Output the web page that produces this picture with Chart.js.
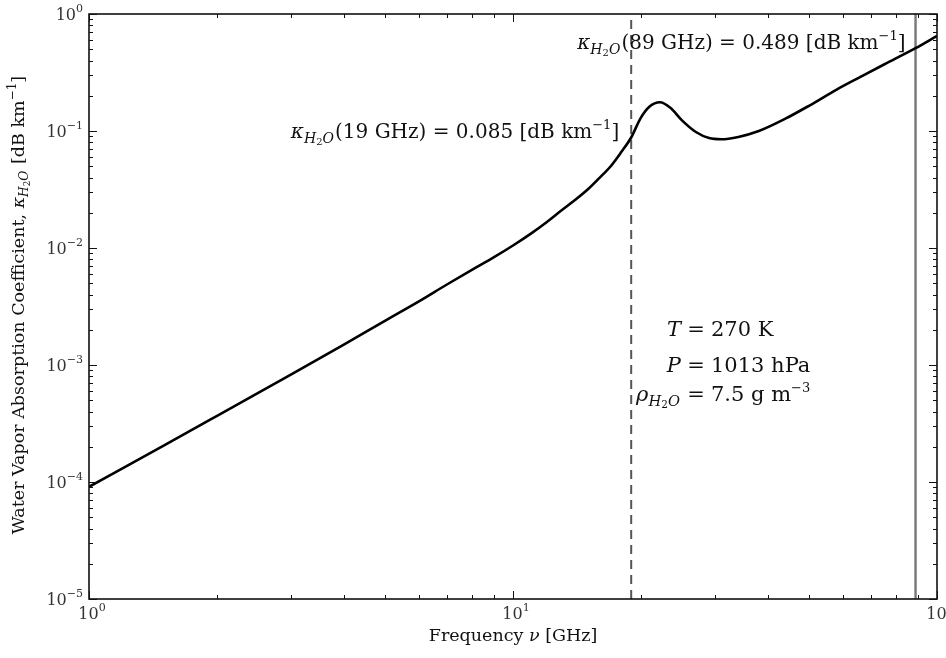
<!DOCTYPE html>
<html>
<head>
<meta charset="utf-8">
<script src="https://cdn.jsdelivr.net/npm/chart.js@4/dist/chart.umd.min.js"></script>
<style>
    html, body { margin: 0; padding: 0; background: #fff; }
    #chart { display: block; }
</style>
</head>
<body>
<canvas id="chart" width="946" height="658"></canvas>
<script>
// frequency [GHz] and water vapour absorption [dB/km]
const FREQ  = [1, 1.5, 2, 3, 4, 5, 6, 7, 8, 9, 10, 11, 12, 13, 14, 15, 16, 17, 18, 19,
               20, 21, 22.2, 23.5, 25, 27, 29, 31, 34, 38, 44, 50, 58, 66, 75, 89, 100];
const KAPPA = [9.1e-5, 2.05e-4, 3.66e-4, 8.3e-4, 1.5e-3, 2.4e-3, 3.5e-3, 4.9e-3, 6.5e-3, 8.3e-3,
               1.05e-2, 1.32e-2, 1.66e-2, 2.09e-2, 2.57e-2, 3.16e-2, 3.98e-2, 5.0e-2, 6.6e-2, 0.088,
               0.129, 0.162, 0.176, 0.158, 0.124, 0.098, 0.087, 0.085, 0.089, 0.1, 0.128, 0.165,
               0.226, 0.29, 0.37, 0.51, 0.65];

const MARK_LOW  = 19;
const MARK_HIGH = 89;
const X_RANGE = [1, 100];
const Y_RANGE = [1e-5, 1];
const X_TICKS = [1, 10, 100];
const X_EXP   = ['0', '1', '2'];
const Y_TICKS = [1e-5, 1e-4, 1e-3, 1e-2, 1e-1, 1];
const Y_EXP   = ['\u22125', '\u22124', '\u22123', '\u22122', '\u22121', '0'];

const SERIF = '"DejaVu Serif", serif';

function font(size, italic) {
    return (italic ? 'italic ' : '') + size + 'px ' + SERIF;
}

/**
 * Draws a run of text pieces with their own font and baseline shift
 */
function richText(ctx, parts, x, y, align) {
    let w = 0;
    parts.forEach(function (p) {
        ctx.font = p.f;
        w += ctx.measureText(p.t).width + (p.gap || 0);
    });
    let cx = x;
    if (align === 'right') cx = x - w;
    if (align === 'center') cx = x - w / 2;
    ctx.textAlign = 'left';
    ctx.textBaseline = 'alphabetic';
    parts.forEach(function (p) {
        ctx.font = p.f;
        ctx.fillText(p.t, cx, y + (p.dy || 0));
        cx += ctx.measureText(p.t).width + (p.gap || 0);
    });
}

function subParts(sym, size) {
    return [
        {t: sym, f: font(size, true)},
        {t: 'H', f: font(size * 0.7, true), dy: size * 0.25},
        {t: '2', f: font(size * 0.5, false), dy: size * 0.35},
        {t: 'O', f: font(size * 0.7, true), dy: size * 0.25, gap: 1}
    ];
}

function minorValues(lo, hi) {
    let out = [];
    for (let d = lo; d < hi; d *= 10) {
        for (let k = 2; k <= 9; k++) out.push(d * k);
    }
    return out;
}

const decorPlugin = {
    id: 'decor',
    afterDraw: function (chart) {
        const ctx = chart.ctx;
        const a = chart.chartArea;
        const xs = chart.scales.x;
        const ys = chart.scales.y;
        ctx.save();
        ctx.fillStyle = '#111';
        ctx.strokeStyle = '#111';

        // frame
        ctx.lineWidth = 1.6;
        ctx.strokeRect(a.left, a.top, a.right - a.left, a.bottom - a.top);

        // ticks inside on all sides
        ctx.lineWidth = 1;
        function xTick(v, len) {
            const px = Math.round(xs.getPixelForValue(v)) + 0.5;
            ctx.beginPath();
            ctx.moveTo(px, a.bottom); ctx.lineTo(px, a.bottom - len);
            ctx.moveTo(px, a.top); ctx.lineTo(px, a.top + len);
            ctx.stroke();
        }
        function yTick(v, len) {
            const py = Math.round(ys.getPixelForValue(v)) + 0.5;
            ctx.beginPath();
            ctx.moveTo(a.left, py); ctx.lineTo(a.left + len, py);
            ctx.moveTo(a.right, py); ctx.lineTo(a.right - len, py);
            ctx.stroke();
        }
        X_TICKS.forEach(function (v) { xTick(v, 8); });
        minorValues(X_RANGE[0], X_RANGE[1]).forEach(function (v) { xTick(v, 4); });
        Y_TICKS.forEach(function (v) { yTick(v, 8); });
        minorValues(Y_RANGE[0], Y_RANGE[1]).forEach(function (v) { yTick(v, 4); });

        // tick labels
        ctx.fillStyle = '#333';
        X_TICKS.forEach(function (v, i) {
            richText(ctx, [
                {t: '10', f: font(16)},
                {t: X_EXP[i], f: font(11), dy: -8}
            ], xs.getPixelForValue(v) + 3, a.bottom + 20, 'center');
        });
        Y_TICKS.forEach(function (v, i) {
            richText(ctx, [
                {t: '10', f: font(16)},
                {t: Y_EXP[i], f: font(11), dy: -8}
            ], a.left - 6, ys.getPixelForValue(v) + 6, 'right');
        });
        ctx.fillStyle = '#111';

        // axis titles
        const ts = 17.5;
        richText(ctx, [
            {t: 'Frequency ', f: font(ts)},
            {t: '\u03bd', f: font(ts, true)},
            {t: ' [GHz]', f: font(ts)}
        ], (a.left + a.right) / 2, 641, 'center');

        ctx.save();
        ctx.translate(24, 305);
        ctx.rotate(-Math.PI / 2);
        richText(ctx, [{t: 'Water Vapor Absorption Coefficient, ', f: font(ts)}]
            .concat(subParts('\u03ba', ts))
            .concat([
                {t: ' [dB km', f: font(ts)},
                {t: '\u22121', f: font(12), dy: -8},
                {t: ']', f: font(ts)}
            ]), 0, 0, 'center');
        ctx.restore();

        // value annotations
        const fs = 20;
        function valueLabel(freq, val, x, y) {
            richText(ctx, subParts('\u03ba', fs).concat([
                {t: '(' + freq + ' GHz) = ' + val + ' [dB km', f: font(fs)},
                {t: '\u22121', f: font(13), dy: -9},
                {t: ']', f: font(fs)}
            ]), x, y, 'right');
        }
        valueLabel('19', '0.085', xs.getPixelForValue(MARK_LOW) - 12, 138);
        valueLabel('89', '0.489', xs.getPixelForValue(MARK_HIGH) - 10, 49);

        // conditions, aligned on the equals sign
        const ex = 696;
        const ps = 21;
        function condLine(left, right, y) {
            richText(ctx, left, ex - 15, y, 'right');
            richText(ctx, [{t: '=', f: font(ps)}], ex, y, 'center');
            richText(ctx, right, ex + 15, y, 'left');
        }
        condLine([{t: 'T', f: font(ps, true)}], [{t: '270 K', f: font(ps)}], 336);
        condLine([{t: 'P', f: font(ps, true)}], [{t: '1013 hPa', f: font(ps)}], 372);
        condLine(subParts('\u03c1', ps), [
            {t: '7.5 g m', f: font(ps)},
            {t: '\u22123', f: font(13), dy: -9}
        ], 401);

        ctx.restore();
    }
};

const ctx = document.getElementById('chart').getContext('2d');

new Chart(ctx, {
    type: 'scatter',
    data: {
        datasets: [{
            data: FREQ.map(function (f, i) { return {x: f, y: KAPPA[i]}; }),
            showLine: true,
            borderColor: '#000',
            borderWidth: 2.6,
            pointRadius: 0,
            cubicInterpolationMode: 'monotone'
        }, {
            data: [{x: MARK_LOW, y: Y_RANGE[0]}, {x: MARK_LOW, y: Y_RANGE[1]}],
            showLine: true,
            borderColor: '#555',
            borderWidth: 2,
            borderDash: [9, 6],
            pointRadius: 0
        }, {
            data: [{x: MARK_HIGH, y: Y_RANGE[0]}, {x: MARK_HIGH, y: Y_RANGE[1]}],
            showLine: true,
            borderColor: '#777',
            borderWidth: 2.4,
            pointRadius: 0
        }]
    },
    options: {
        responsive: false,
        animation: false,
        layout: {padding: {left: 0, right: 9, top: 14, bottom: 0}},
        plugins: {legend: {display: false}, tooltip: {enabled: false}},
        scales: {
            x: {
                type: 'logarithmic',
                min: X_RANGE[0],
                max: X_RANGE[1],
                grid: {display: false},
                border: {display: false},
                ticks: {display: false},
                afterFit: function (s) { s.height = 59; }
            },
            y: {
                type: 'logarithmic',
                min: Y_RANGE[0],
                max: Y_RANGE[1],
                grid: {display: false},
                border: {display: false},
                ticks: {display: false},
                afterFit: function (s) { s.width = 89; }
            }
        }
    },
    plugins: [decorPlugin]
});
</script>
</body>
</html>
